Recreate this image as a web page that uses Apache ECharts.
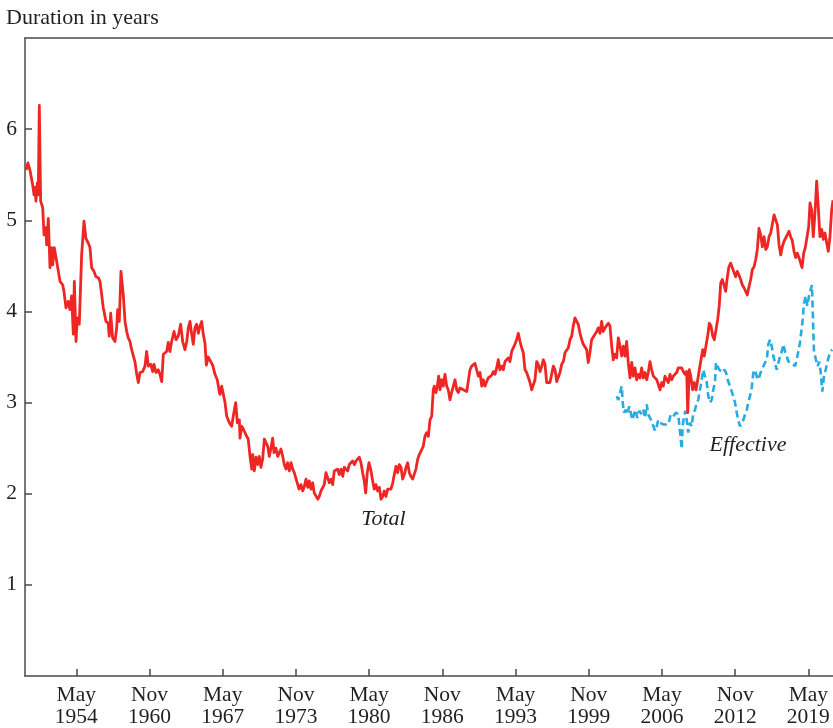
<!DOCTYPE html>
<html>
<head>
<meta charset="utf-8">
<title>Duration in years</title>
<script src="https://cdn.jsdelivr.net/npm/echarts@6/dist/echarts.min.js"></script>
<style>
  html, body { margin: 0; padding: 0; background: #ffffff; }
  #chart { width: 833px; height: 728px; }
</style>
</head>
<body>
<div id="chart"></div>
<script>
// Dates are decimal years; durations are in years.
const totalDates = [
  1949.87,1950.04,1950.22,1950.46,1950.58,1950.67,1950.75,1950.87,1950.96,1951.05,1951.17,1951.35,1951.47,1951.64,1951.70,1951.85,
  1952.00,1952.15,1952.24,1952.38,1952.59,1952.89,1953.13,1953.24,1953.42,1953.62,1953.77,1953.92,1954.07,1954.16,1954.31,1954.42,
  1954.60,1954.81,1955.02,1955.19,1955.40,1955.55,1955.70,1955.90,1956.08,1956.29,1956.44,1956.59,1956.73,1956.97,1957.17,1957.26,
  1957.39,1957.56,1957.77,1957.92,1958.01,1958.15,1958.30,1958.42,1958.51,1958.66,1958.81,1958.95,1959.10,1959.25,1959.39,1959.54,
  1959.70,1959.84,1959.99,1960.23,1960.43,1960.58,1960.73,1960.94,1961.12,1961.23,1961.41,1961.61,1961.76,1961.92,1962.06,1962.21,
  1962.36,1962.50,1962.65,1962.80,1963.01,1963.19,1963.39,1963.60,1963.78,1963.98,1964.14,1964.28,1964.43,1964.58,1964.72,1964.87,
  1965.02,1965.17,1965.32,1965.47,1965.61,1965.76,1965.88,1966.05,1966.27,1966.44,1966.65,1966.85,1967.03,1967.09,1967.24,1967.39,
  1967.54,1967.69,1967.92,1968.13,1968.27,1968.49,1968.63,1968.81,1968.87,1969.02,1969.16,1969.31,1969.46,1969.60,1969.76,1969.91,
  1970.00,1970.14,1970.29,1970.44,1970.58,1970.73,1970.88,1971.03,1971.18,1971.33,1971.47,1971.62,1971.77,1971.89,1972.06,1972.22,
  1972.36,1972.51,1972.66,1972.80,1972.95,1973.10,1973.25,1973.40,1973.55,1973.69,1973.90,1974.11,1974.28,1974.43,1974.58,1974.73,
  1974.88,1975.02,1975.17,1975.32,1975.46,1975.62,1975.77,1975.91,1976.06,1976.21,1976.35,1976.50,1976.65,1976.80,1976.95,1977.10,
  1977.24,1977.39,1977.54,1977.68,1977.84,1977.99,1978.13,1978.28,1978.43,1978.57,1978.72,1978.87,1979.02,1979.17,1979.32,1979.46,
  1979.61,1979.76,1979.90,1980.03,1980.17,1980.32,1980.47,1980.65,1980.79,1980.94,1981.09,1981.24,1981.39,1981.54,1981.68,1981.83,
  1981.98,1982.12,1982.27,1982.43,1982.57,1982.72,1982.87,1983.01,1983.16,1983.31,1983.46,1983.61,1983.76,1983.90,1984.05,1984.20,
  1984.34,1984.49,1984.65,1984.79,1985.14,1985.29,1985.44,1985.59,1985.74,1985.89,1986.03,1986.12,1986.27,1986.39,1986.51,1986.63,
  1986.78,1986.92,1987.07,1987.22,1987.36,1987.51,1987.66,1987.81,1987.96,1988.11,1988.25,1988.40,1988.55,1988.70,1988.85,1989.00,
  1989.14,1989.29,1989.44,1989.58,1989.73,1989.88,1990.03,1990.18,1990.33,1990.47,1990.62,1990.77,1990.91,1991.07,1991.22,1991.36,
  1991.51,1991.66,1991.80,1991.95,1992.10,1992.25,1992.40,1992.55,1992.69,1992.84,1992.99,1993.13,1993.28,1993.43,1993.58,1993.73,
  1993.88,1994.02,1994.17,1994.32,1994.47,1994.62,1994.77,1994.91,1995.06,1995.21,1995.35,1995.51,1995.66,1995.80,1995.95,1996.10,
  1996.24,1996.39,1996.54,1996.69,1996.84,1996.99,1997.13,1997.28,1997.43,1997.58,1997.73,1997.88,1998.02,1998.17,1998.32,1998.46,
  1998.61,1998.76,1998.90,1999.06,1999.21,1999.35,1999.50,1999.65,1999.79,1999.94,2000.09,2000.24,2000.39,2000.54,2000.68,2000.83,
  2000.98,2001.12,2001.28,2001.43,2001.57,2001.72,2001.87,2002.01,2002.16,2002.31,2002.46,2002.61,2002.76,2002.90,2003.05,2003.20,
  2003.34,2003.50,2003.65,2003.79,2003.94,2004.09,2004.23,2004.38,2004.53,2004.68,2004.83,2004.98,2005.12,2005.27,2005.42,2005.57,
  2005.72,2005.87,2006.01,2006.16,2006.31,2006.45,2006.60,2006.75,2006.90,2007.05,2007.20,2007.34,2007.49,2007.64,2007.78,2007.94,
  2008.09,2008.23,2008.38,2008.53,2008.62,2008.76,2008.89,2009.06,2009.20,2009.36,2009.51,2009.65,2009.80,2009.95,2010.09,2010.24,
  2010.39,2010.54,2010.69,2010.84,2010.98,2011.13,2011.28,2011.42,2011.55,2011.69,2011.84,2011.99,2012.13,2012.28,2012.44,2012.58,
  2012.73,2012.88,2013.02,2013.17,2013.32,2013.47,2013.62,2013.77,2013.91,2014.06,2014.21,2014.36,2014.51,2014.66,2014.80,2014.95,
  2015.10,2015.25,2015.40,2015.55,2015.69,2015.84,2015.99,2016.13,2016.29,2016.43,2016.58,2016.73,2016.88,2017.02,2017.17,2017.32,
  2017.46,2017.61,2017.76,2017.90,2018.06,2018.21,2018.35,2018.50,2018.65,2018.77,2018.92,2019.06,2019.21,2019.36,2019.48,2019.63,
  2019.77,2019.92,2020.07,2020.21,2020.36,2020.52,2020.66,2020.81,2020.96,2021.10,2021.25,2021.40,2021.52
];
const totalDuration = [
  5.55,5.63,5.55,5.39,5.28,5.36,5.21,5.41,5.28,6.26,5.21,5.14,4.84,4.92,4.73,5.02,
  4.48,4.70,4.51,4.70,4.55,4.33,4.29,4.22,4.04,4.11,4.02,4.17,3.75,4.33,3.67,3.93,
  3.86,4.62,4.99,4.80,4.75,4.70,4.48,4.44,4.38,4.37,4.33,4.18,4.04,3.89,3.87,3.73,
  3.98,3.71,3.67,3.82,4.02,3.89,4.44,4.46,4.18,3.89,3.78,3.71,3.67,3.58,3.56,3.45,
  3.31,3.22,3.33,3.34,3.40,3.56,3.40,3.42,3.34,3.42,3.33,3.36,3.31,3.23,3.53,3.51,
  3.56,3.66,3.56,3.67,3.78,3.69,3.73,3.86,3.67,3.58,3.67,3.82,3.89,3.75,3.64,3.82,
  3.86,3.76,3.84,3.89,3.75,3.65,3.41,3.50,3.45,3.41,3.31,3.25,3.12,3.09,3.18,3.09,
  3.00,2.85,2.78,2.74,2.85,3.00,2.78,2.81,2.61,2.74,2.71,2.72,2.63,2.60,2.41,2.27,
  2.43,2.25,2.40,2.32,2.41,2.29,2.38,2.60,2.61,2.52,2.41,2.50,2.61,2.45,2.50,2.41,
  2.45,2.49,2.41,2.32,2.27,2.34,2.25,2.34,2.27,2.23,2.14,2.05,2.10,2.03,2.08,2.16,
  2.07,2.14,2.05,2.12,2.01,1.99,1.94,1.97,2.03,2.01,2.10,2.23,2.25,2.12,2.16,2.10,
  2.25,2.23,2.27,2.21,2.27,2.19,2.29,2.30,2.25,2.32,2.30,2.36,2.32,2.36,2.38,2.40,
  2.34,2.23,2.14,2.01,2.23,2.34,2.27,2.14,2.05,2.10,2.03,2.07,1.94,1.97,2.03,1.97,
  2.05,2.03,2.05,2.12,2.21,2.30,2.23,2.32,2.29,2.16,2.21,2.29,2.34,2.23,2.19,2.16,
  2.14,2.27,2.38,2.43,2.52,2.63,2.67,2.63,2.81,2.85,3.14,3.18,3.11,3.18,3.29,3.14,
  3.25,3.18,3.31,3.18,3.14,3.03,3.11,3.18,3.25,3.14,3.11,3.16,3.14,3.14,3.14,3.12,
  3.14,3.36,3.40,3.38,3.43,3.36,3.29,3.33,3.18,3.25,3.18,3.23,3.27,3.28,3.30,3.34,
  3.31,3.38,3.47,3.36,3.40,3.36,3.45,3.47,3.49,3.45,3.56,3.60,3.64,3.69,3.76,3.67,
  3.60,3.55,3.36,3.33,3.31,3.22,3.14,3.16,3.25,3.45,3.42,3.34,3.40,3.47,3.42,3.22,
  3.22,3.22,3.23,3.40,3.36,3.23,3.22,3.33,3.42,3.45,3.55,3.56,3.60,3.69,3.73,3.84,
  3.93,3.89,3.86,3.76,3.69,3.64,3.62,3.58,3.44,3.55,3.69,3.71,3.75,3.78,3.82,3.76,
  3.89,3.78,3.82,3.80,3.87,3.84,3.62,3.47,3.53,3.49,3.71,3.62,3.51,3.62,3.51,3.67,
  3.44,3.27,3.44,3.29,3.38,3.25,3.31,3.27,3.38,3.27,3.33,3.25,3.33,3.45,3.36,3.29,
  3.27,3.25,3.20,3.14,3.22,3.18,3.29,3.27,3.22,3.31,3.25,3.29,3.27,3.33,3.38,3.36,
  3.38,3.34,3.31,3.34,2.89,3.36,3.29,3.14,3.22,3.14,3.25,3.36,3.47,3.58,3.51,3.62,
  3.73,3.87,3.84,3.73,3.69,3.80,3.91,4.06,4.31,4.35,4.29,4.22,4.37,4.49,4.53,4.48,
  4.48,4.38,4.44,4.40,4.35,4.29,4.26,4.27,4.18,4.27,4.35,4.46,4.49,4.57,4.68,4.91,
  4.84,4.71,4.82,4.68,4.71,4.82,4.86,4.84,5.06,5.04,4.95,4.73,4.62,4.71,4.77,4.75,
  4.84,4.88,4.82,4.78,4.66,4.59,4.64,4.59,4.57,4.48,4.64,4.70,4.68,4.93,5.19,5.11,
  4.82,5.08,5.43,5.15,4.82,4.90,4.79,4.86,4.75,4.66,4.82,5.11,5.22
];

const effectiveDates = [
  2002.31,2002.46,2002.61,2002.76,2002.85,2002.96,2003.14,2003.26,2003.43,2003.56,2003.70,2003.85,2004.00,2004.14,2004.32,2004.53,
  2004.68,2004.83,2004.98,2005.12,2005.27,2005.42,2005.57,2005.72,2005.87,2006.01,2006.16,2006.31,2006.45,2006.60,2006.90,2007.11,
  2007.34,2007.58,2007.78,2007.94,2008.09,2008.17,2008.29,2008.41,2008.53,2008.67,2008.82,2008.97,2009.12,2009.27,2009.42,2009.56,
  2009.71,2009.86,2010.00,2010.15,2010.31,2010.45,2010.60,2010.75,2010.89,2011.04,2011.13,2011.25,2011.42,2011.58,2011.73,2011.87,
  2012.02,2012.17,2012.37,2012.53,2012.67,2012.82,2012.97,2013.11,2013.26,2013.41,2013.56,2013.71,2013.86,2014.00,2014.15,2014.30,
  2014.45,2014.59,2014.74,2014.89,2015.04,2015.19,2015.34,2015.49,2015.64,2015.78,2015.93,2016.08,2016.22,2016.37,2016.52,2016.67,
  2016.82,2016.97,2017.11,2017.26,2017.41,2017.55,2017.70,2017.85,2018.00,2018.15,2018.30,2018.44,2018.59,2018.74,2018.83,2018.94,
  2019.10,2019.24,2019.39,2019.54,2019.65,2019.72,2019.77,2019.83,2020.01,2020.16,2020.30,2020.43,2020.57,2020.72,2020.87,2021.01,
  2021.16,2021.31,2021.45
];
const effectiveDuration = [
  3.07,3.03,3.11,3.18,3.00,2.89,2.92,2.87,2.96,2.89,2.81,2.87,2.92,2.83,2.91,2.87,
  2.92,2.83,2.98,2.87,2.83,2.80,2.74,2.69,2.74,2.81,2.78,2.80,2.76,2.78,2.76,2.87,
  2.85,2.89,2.87,2.85,2.49,2.74,2.85,2.91,2.81,2.67,2.78,2.74,2.89,2.92,3.00,3.03,
  3.14,3.25,3.36,3.29,3.22,3.07,3.00,3.03,3.14,3.22,3.44,3.40,3.36,3.38,3.33,3.36,
  3.33,3.25,3.18,3.12,3.07,3.00,2.89,2.81,2.74,2.76,2.81,2.87,2.92,3.00,3.07,3.16,
  3.33,3.36,3.29,3.25,3.31,3.36,3.38,3.44,3.47,3.64,3.69,3.62,3.51,3.44,3.36,3.38,
  3.51,3.56,3.64,3.56,3.51,3.45,3.47,3.44,3.45,3.40,3.47,3.56,3.66,3.67,3.91,4.09,
  4.17,4.06,4.17,4.24,4.29,4.02,3.80,3.56,3.47,3.40,3.45,3.33,3.12,3.29,3.36,3.44,
  3.51,3.56,3.58
];

// Labelled ticks along the time axis
const tickMonths = ['May','Nov','May','Nov','May','Nov','May','Nov','May','Nov','May'];
const tickYears  = [1954,1960,1967,1973,1980,1986,1993,1999,2006,2012,2019];
const durationTicks = [1, 2, 3, 4, 5, 6];

// In-plot series labels, anchored in data coordinates
const seriesNotes = [
  { text: 'Total', date: 1981.61, duration: 1.72 },
  { text: 'Effective', date: 2013.97, duration: 2.53 }
];

const monthNames = ['Jan','Feb','Mar','Apr','May','Jun','Jul','Aug','Sep','Oct','Nov','Dec'];
const tickValues = tickYears.map((y, i) => y + monthNames.indexOf(tickMonths[i]) / 12);

const zip = (xs, ys) => xs.map((x, i) => [x, ys[i]]);

const serif = '"Liberation Serif", "Times New Roman", serif';
const ink = '#231f20';
const axisColor = '#4a4a4a';

const xMin = 1949.78, xMax = 2021.52;

const chart = echarts.init(document.getElementById('chart'), null, { renderer: 'canvas' });

chart.setOption({
  animation: false,
  backgroundColor: '#ffffff',
  title: {
    text: 'Duration in years',
    left: 6, top: 7, padding: 0,
    textStyle: { fontFamily: serif, fontSize: 22, fontWeight: 'normal', color: ink }
  },
  grid: { left: 25, right: 0, top: 38, bottom: 51, containLabel: false },
  xAxis: [{
    type: 'value',
    min: xMin, max: xMax,
    splitLine: { show: false },
    axisLine: { show: true, onZero: false, lineStyle: { color: axisColor, width: 1.5 } },
    axisTick: { show: true, inside: true, length: 7, customValues: tickValues,
      lineStyle: { color: axisColor, width: 1.5 } },
    axisLabel: {
      customValues: tickValues,
      margin: 8,
      fontFamily: serif, fontSize: 21.5, color: ink, lineHeight: 22,
      formatter: (v) => {
        let best = 0;
        tickValues.forEach((t, i) => { if (Math.abs(t - v) < Math.abs(tickValues[best] - v)) best = i; });
        return tickMonths[best] + '\n' + tickYears[best];
      }
    }
  }, {
    type: 'value',
    position: 'top',
    min: xMin, max: xMax,
    splitLine: { show: false },
    axisLine: { show: true, onZero: false, lineStyle: { color: axisColor, width: 1.5 } },
    axisTick: { show: false },
    axisLabel: { show: false }
  }],
  yAxis: {
    type: 'value',
    min: 0, max: 7,
    splitLine: { show: false },
    axisLine: { show: true, onZero: false, lineStyle: { color: axisColor, width: 1.5 } },
    axisTick: { show: true, inside: true, length: 7, customValues: durationTicks,
      lineStyle: { color: axisColor, width: 1.5 } },
    axisLabel: {
      customValues: durationTicks,
      margin: 8,
      fontFamily: serif, fontSize: 21.5, color: ink
    }
  },
  series: [{
    name: 'Total',
    type: 'line',
    xAxisIndex: 0,
    data: zip(totalDates, totalDuration),
    showSymbol: false,
    symbol: 'none',
    lineStyle: { color: '#ee2624', width: 2.8, join: 'round' },
    z: 3
  }, {
    name: 'Effective',
    type: 'line',
    xAxisIndex: 0,
    data: zip(effectiveDates, effectiveDuration),
    showSymbol: false,
    symbol: 'none',
    lineStyle: { color: '#29aae2', width: 2.6, type: [7, 4] },
    z: 2
  }, {
    name: 'notes',
    type: 'scatter',
    xAxisIndex: 0,
    data: seriesNotes.map(n => ({ value: [n.date, n.duration], name: n.text })),
    symbol: 'circle',
    symbolSize: 1,
    itemStyle: { color: 'rgba(0,0,0,0)', opacity: 1 },
    silent: true,
    label: {
      show: true, position: 'inside',
      formatter: (p) => p.name,
      fontFamily: serif, fontStyle: 'italic', fontSize: 22, color: ink,
      textBorderWidth: 0, textBorderColor: 'transparent', opacity: 1
    },
    z: 4
  }]
});
</script>
</body>
</html>
